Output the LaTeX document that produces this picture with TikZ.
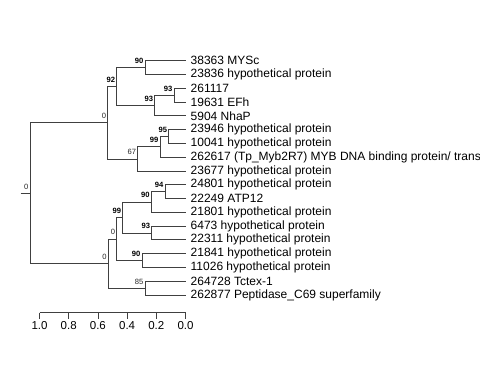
\documentclass[tikz,border=0pt]{standalone}
\usepackage{fontspec}
\setmainfont{Liberation Sans}
\begin{document}
\begin{tikzpicture}[x=1pt,y=-1pt,
  edge/.style={draw=black!75,line width=0.8pt},
  leaf/.style={anchor=west,inner sep=0pt,font=\fontsize{12}{14}\selectfont},
  bsb/.style={anchor=base east,inner sep=0pt,font=\fontsize{7.6}{8}\selectfont\bfseries},
  bsn/.style={anchor=base east,inner sep=0pt,font=\fontsize{7.6}{8}\selectfont,text=black!85},
  axlab/.style={anchor=base,inner sep=0pt,font=\fontsize{11.5}{13}\selectfont}]
\useasboundingbox (0,0) rectangle (480,384);
% internal nodes
\coordinate (R) at (30,193.1);
\coordinate (S) at (20.5,193.1);
\coordinate (A) at (107.7,122.7);
\coordinate (B) at (116.7,86.55);
\coordinate (C) at (145,67.6);
\coordinate (D) at (154.7,105.5);
\coordinate (E) at (174,95.15);
\coordinate (F) at (137.7,158.9);
\coordinate (G) at (160,146.85);
\coordinate (H) at (168.7,136.5);
\coordinate (I) at (108.3,263.54);
\coordinate (J) at (116.7,238.98);
\coordinate (K) at (122.7,217.45);
\coordinate (M) at (151.2,201.95);
\coordinate (O) at (165,191.6);
\coordinate (N) at (151.7,232.95);
\coordinate (L) at (142,260.5);
\coordinate (P) at (145,288.1);
% tips
\foreach \i/\y in {0/60.7,1/74.5,2/88.3,3/102.0,4/115.8,5/129.6,6/143.4,7/157.2,8/170.9,9/184.7,10/198.5,11/212.3,12/226.1,13/239.8,14/253.6,15/267.4,16/281.2,17/295.0}
  \coordinate (t\i) at (185.5,\y);
% leaf labels
\node[leaf] (l0) at (190.5,60.7) {38363 MYSc};
\node[leaf] (l1) at (190.5,74.5) {23836 hypothetical protein};
\node[leaf] (l2) at (190.5,88.3) {261117};
\node[leaf] (l3) at (190.5,102.0) {19631 EFh};
\node[leaf] (l4) at (190.5,115.8) {5904 NhaP};
\node[leaf] (l5) at (190.5,129.6) {23946 hypothetical protein};
\node[leaf] (l6) at (190.5,143.4) {10041 hypothetical protein};
\node[leaf] (l7) at (190.5,157.2) {262617 (Tp\_Myb2R7) MYB DNA binding protein/ trans};
\node[leaf] (l8) at (190.5,170.9) {23677 hypothetical protein};
\node[leaf] (l9) at (190.5,184.7) {24801 hypothetical protein};
\node[leaf] (l10) at (190.5,198.5) {22249 ATP12};
\node[leaf] (l11) at (190.5,212.3) {21801 hypothetical protein};
\node[leaf] (l12) at (190.5,226.1) {6473 hypothetical protein};
\node[leaf] (l13) at (190.5,239.8) {22311 hypothetical protein};
\node[leaf] (l14) at (190.5,253.6) {21841 hypothetical protein};
\node[leaf] (l15) at (190.5,267.4) {11026 hypothetical protein};
\node[leaf] (l16) at (190.5,281.2) {264728 Tctex-1};
\node[leaf] (l17) at (190.5,295.0) {262877 Peptidase\_C69 superfamily};
% edges
\draw[edge] (S) -- (R);
\draw[edge] (R) |- (A);
\draw[edge] (R) |- (I);
\draw[edge] (A) |- (B);
\draw[edge] (A) |- (F);
\draw[edge] (B) |- (C);
\draw[edge] (B) |- (D);
\draw[edge] (C) |- (t0);
\draw[edge] (C) |- (t1);
\draw[edge] (D) |- (E);
\draw[edge] (D) |- (t4);
\draw[edge] (E) |- (t2);
\draw[edge] (E) |- (t3);
\draw[edge] (F) |- (G);
\draw[edge] (F) |- (t8);
\draw[edge] (G) |- (H);
\draw[edge] (G) |- (t7);
\draw[edge] (H) |- (t5);
\draw[edge] (H) |- (t6);
\draw[edge] (I) |- (J);
\draw[edge] (I) |- (P);
\draw[edge] (J) |- (K);
\draw[edge] (J) |- (L);
\draw[edge] (K) |- (M);
\draw[edge] (K) |- (N);
\draw[edge] (M) |- (O);
\draw[edge] (M) |- (t11);
\draw[edge] (O) |- (t9);
\draw[edge] (O) |- (t10);
\draw[edge] (N) |- (t12);
\draw[edge] (N) |- (t13);
\draw[edge] (L) |- (t14);
\draw[edge] (L) |- (t15);
\draw[edge] (P) |- (t16);
\draw[edge] (P) |- (t17);
% support values
\node[bsn] (bR) at ([shift={(-1.5pt,4pt)}]R) {0};
\node[bsn] (bA) at ([shift={(-1.5pt,4pt)}]A) {0};
\node[bsb] (bB) at ([shift={(-1.5pt,4pt)}]B) {92};
\node[bsb] (bC) at ([shift={(-1.5pt,4pt)}]C) {90};
\node[bsb] (bD) at ([shift={(-1.5pt,4pt)}]D) {93};
\node[bsb] (bE) at ([shift={(-1.5pt,4pt)}]E) {93};
\node[bsn] (bF) at ([shift={(-1.5pt,4pt)}]F) {67};
\node[bsb] (bG) at ([shift={(-1.5pt,4pt)}]G) {99};
\node[bsb] (bH) at ([shift={(-1.5pt,4pt)}]H) {95};
\node[bsn] (bI) at ([shift={(-1.5pt,4pt)}]I) {0};
\node[bsn] (bJ) at ([shift={(-1.5pt,4pt)}]J) {0};
\node[bsb] (bK) at ([shift={(-1.5pt,4pt)}]K) {99};
\node[bsb] (bM) at ([shift={(-1.5pt,4pt)}]M) {90};
\node[bsb] (bO) at ([shift={(-1.5pt,4pt)}]O) {94};
\node[bsb] (bN) at ([shift={(-1.5pt,4pt)}]N) {93};
\node[bsb] (bL) at ([shift={(-1.5pt,4pt)}]L) {90};
\node[bsn] (bP) at ([shift={(-1.5pt,4pt)}]P) {85};
% scale axis
\coordinate (ax0) at (39.5,312.5);
\coordinate (ax1) at (185.5,312.5);
\draw[edge] (ax0) -- (ax1);
\foreach \v/\x in {1.0/39.5,0.8/68.7,0.6/97.9,0.4/127.1,0.2/156.3,0.0/185.5}{
  \draw[edge] (\x,312.5) -- (\x,318.5);
  \node[axlab] at (\x,329) {\v};
}
\end{tikzpicture}
\end{document}
